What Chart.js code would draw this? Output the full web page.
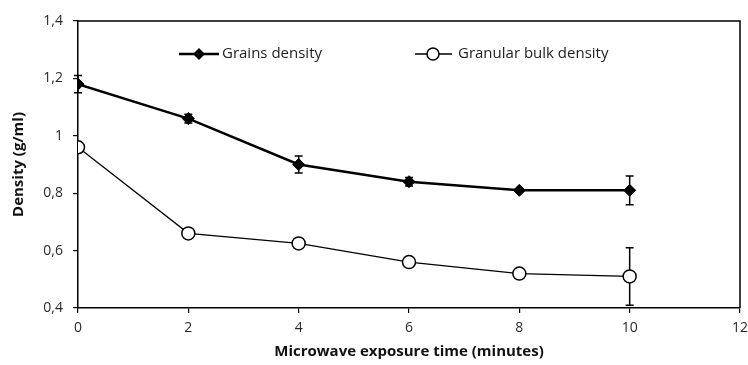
<!DOCTYPE html>
<html lang="en">
<head>
    <meta charset="UTF-8">
    <title>Density vs microwave exposure</title>
    <script src="https://cdn.jsdelivr.net/npm/chart.js"></script>
    <style>
        html, body { margin: 0; padding: 0; background: #fff; overflow: hidden; }
        #chart-container { width: 748px; height: 365px; }
    </style>
</head>
<body>
    <div id="chart-container">
        <canvas id="chart"></canvas>
    </div>
    <script>
        // Daten
        var times = [0, 2, 4, 6, 8, 10];
        var grainsDensity = [1.18, 1.06, 0.90, 0.84, 0.81, 0.81];
        var grainsError = [0.03, 0.015, 0.03, 0.015, 0.005, 0.05];
        var bulkDensity = [0.96, 0.66, 0.625, 0.56, 0.52, 0.51];
        var bulkError = [0, 0, 0, 0, 0, 0.10];
        var xTicks = [0, 2, 4, 6, 8, 10, 12];
        var yTicks = [0.4, 0.6, 0.8, 1.0, 1.2, 1.4];

        var FONT = '"Open Sans", "Noto Sans", sans-serif';

        function toPoints(xs, ys) {
            return xs.map(function (x, i) { return { x: x, y: ys[i] }; });
        }

        // Fehlerbalken + Rahmen
        var errorBars = {
            id: 'errorBars',
            beforeDatasetsDraw: function (chart) {
                var ctx = chart.ctx;
                var xs = chart.scales.x, ys = chart.scales.y;
                var a = chart.chartArea;
                ctx.save();
                ctx.strokeStyle = '#000';
                ctx.lineWidth = 1.5;
                ctx.beginPath();
                ctx.moveTo(a.left, a.top);
                ctx.lineTo(a.right, a.top);
                ctx.lineTo(a.right, a.bottom);
                ctx.stroke();

                [[grainsDensity, grainsError], [bulkDensity, bulkError]].forEach(function (s) {
                    times.forEach(function (t, i) {
                        if (!s[1][i]) return;
                        var px = xs.getPixelForValue(t);
                        var top = ys.getPixelForValue(s[0][i] + s[1][i]);
                        var bot = ys.getPixelForValue(s[0][i] - s[1][i]);
                        ctx.lineWidth = 1.5;
                        ctx.beginPath();
                        ctx.moveTo(px, top); ctx.lineTo(px, bot);
                        ctx.moveTo(px - 4, top); ctx.lineTo(px + 4, top);
                        ctx.moveTo(px - 4, bot); ctx.lineTo(px + 4, bot);
                        ctx.stroke();
                    });
                });
                ctx.restore();
            }
        };

        // Legende im Diagramm
        var innerLegend = {
            id: 'innerLegend',
            afterDraw: function (chart) {
                var ctx = chart.ctx;
                var a = chart.chartArea;
                var y = a.top + 33;
                ctx.save();
                ctx.font = '15px ' + FONT;
                ctx.fillStyle = '#222';
                ctx.textBaseline = 'middle';

                // Grains density
                var x0 = a.left + 101;
                ctx.strokeStyle = '#000';
                ctx.lineWidth = 2.5;
                ctx.beginPath(); ctx.moveTo(x0, y); ctx.lineTo(x0 + 40, y); ctx.stroke();
                ctx.fillStyle = '#000';
                ctx.beginPath();
                ctx.moveTo(x0 + 20, y - 6); ctx.lineTo(x0 + 26, y);
                ctx.lineTo(x0 + 20, y + 6); ctx.lineTo(x0 + 14, y);
                ctx.closePath(); ctx.fill();
                ctx.fillStyle = '#222';
                ctx.fillText(chart.data.datasets[0].label, x0 + 43, y);

                // Granular bulk density
                var x1 = a.left + 337;
                ctx.lineWidth = 1.3;
                ctx.beginPath(); ctx.moveTo(x1, y); ctx.lineTo(x1 + 37, y); ctx.stroke();
                ctx.beginPath(); ctx.arc(x1 + 18, y, 6, 0, Math.PI * 2);
                ctx.fillStyle = '#fff'; ctx.fill();
                ctx.lineWidth = 1.5; ctx.stroke();
                ctx.fillStyle = '#222';
                ctx.fillText(chart.data.datasets[1].label, x1 + 43, y);
                ctx.restore();
            }
        };

        var ctx = document.getElementById('chart').getContext('2d');
        var chart = new Chart(ctx, {
            type: 'line',
            data: {
                datasets: [{
                    label: 'Grains density',
                    data: toPoints(times, grainsDensity),
                    borderColor: '#000',
                    borderWidth: 2.5,
                    backgroundColor: '#000',
                    pointStyle: 'rectRot',
                    pointRadius: 6,
                    pointBorderWidth: 1,
                    pointBackgroundColor: '#000',
                    pointBorderColor: '#000'
                }, {
                    label: 'Granular bulk density',
                    data: toPoints(times, bulkDensity),
                    borderColor: '#000',
                    borderWidth: 1.3,
                    pointStyle: 'circle',
                    pointRadius: 6.5,
                    pointBorderWidth: 1.5,
                    pointBackgroundColor: '#fff',
                    pointBorderColor: '#000'
                }]
            },
            options: {
                responsive: true,
                maintainAspectRatio: false,
                animation: false,
                layout: { padding: { top: 21, right: 6, left: 0, bottom: 0 } },
                plugins: {
                    legend: { display: false },
                    tooltip: { enabled: false }
                },
                scales: {
                    x: {
                        type: 'linear',
                        min: 0,
                        max: 12,
                        afterBuildTicks: function (s) { s.ticks = xTicks.map(function (v) { return { value: v }; }); },
                        afterFit: function (s) { s.paddingLeft = 0; s.paddingRight = 0; s.height = 57; },
                        border: { color: '#000', width: 1.5 },
                        grid: { drawOnChartArea: false, drawTicks: true, tickLength: 5, color: '#000', lineWidth: 1.2 },
                        ticks: { color: '#2a2a2a', font: { family: FONT, size: 14 }, padding: 7, maxRotation: 0 },
                        title: {
                            display: true,
                            text: 'Microwave exposure time (minutes)',
                            color: '#111',
                            font: { family: FONT, size: 15, weight: 'bold' },
                            padding: { top: 9 }
                        }
                    },
                    y: {
                        min: 0.4,
                        max: 1.4,
                        afterBuildTicks: function (s) { s.ticks = yTicks.map(function (v) { return { value: v }; }); },
                        afterFit: function (s) { s.paddingTop = 0; s.paddingBottom = 0; s.width = 78; },
                        border: { color: '#000', width: 1.5 },
                        grid: { drawOnChartArea: false, drawTicks: true, tickLength: 5, color: '#000', lineWidth: 1.2 },
                        ticks: {
                            color: '#2a2a2a',
                            font: { family: FONT, size: 14 },
                            padding: 10,
                            callback: function (v) { return String(Math.round(v * 10) / 10).replace('.', ','); }
                        },
                        title: {
                            display: true,
                            text: 'Density (g/ml)',
                            color: '#111',
                            font: { family: FONT, size: 15, weight: 'bold' },
                            padding: { top: 10, bottom: 6 }
                        }
                    }
                }
            },
            plugins: [errorBars, innerLegend]
        });
    </script>
</body>
</html>
